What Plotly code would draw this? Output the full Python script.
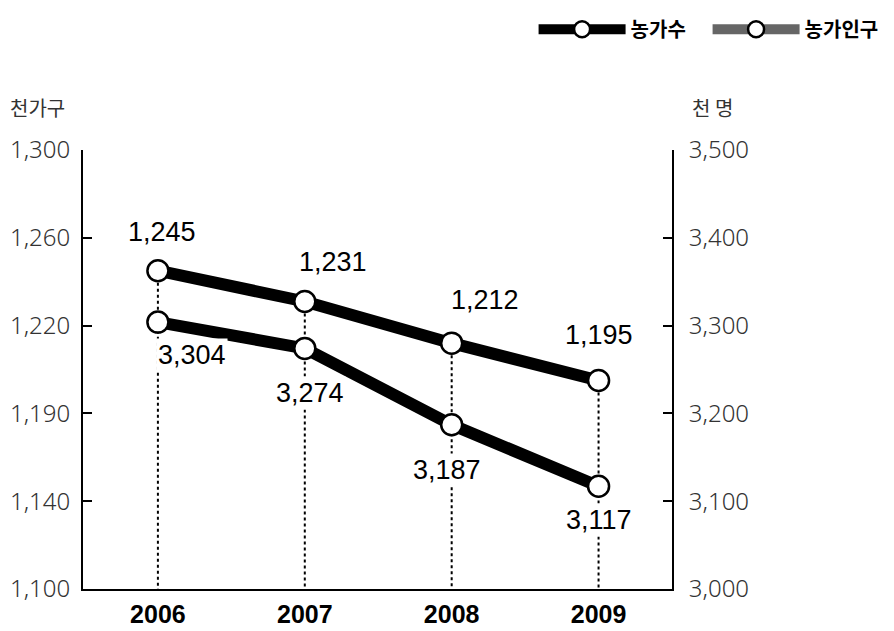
import numpy as np
import plotly.graph_objects as go

# ---- data ----
years = ["2006", "2007", "2008", "2009"]
households = [1245, 1231, 1212, 1195]          # 농가수 (천가구)
population = [3304, 3274, 3187, 3117]          # 농가인구 (천 명)
left_tick_text = ["1,100", "1,140", "1,190", "1,220", "1,260", "1,300"]
right_tick_text = ["3,000", "3,100", "3,200", "3,300", "3,400", "3,500"]
left_range = [1100, 1300]
right_range = [3000, 3500]
series_names = ["농가수", "농가인구"]

# ---- style ----
hh_label_shift = [(4, 39), (28, 39), (33, 43), (0, 45)]
pop_label_shift = [(34, -33), (5, -45), (-5, -45), (0, -34)]
tick_font = dict(family="Noto Sans, Liberation Sans, sans-serif", size=24, color="#333", weight=300)
label_font = dict(family="Liberation Sans, Arial, sans-serif", size=27, color="black")
LINE_W = 12
MARKER = dict(size=21, color="white", line=dict(color="black", width=2.5))

fig = go.Figure()

# dotted drop lines (x = category index)
for i, y in enumerate(households):
    fig.add_shape(type="line", xref="x", yref="y", x0=i, x1=i,
                  y0=y, y1=left_range[0], layer="below",
                  line=dict(color="black", width=2, dash="dot"))

fig.add_trace(go.Scatter(x=years, y=households, mode="lines+markers", name=series_names[0],
                         line=dict(color="black", width=LINE_W), marker=MARKER,
                         showlegend=False, yaxis="y", cliponaxis=False))
fig.add_trace(go.Scatter(x=years, y=population, mode="lines+markers", name=series_names[1],
                         line=dict(color="black", width=LINE_W), marker=MARKER,
                         showlegend=False, yaxis="y2", cliponaxis=False))

# legend entries
fig.add_trace(go.Scatter(x=[None], y=[None], mode="lines+markers", name=series_names[0],
                         line=dict(color="black", width=LINE_W), marker=MARKER))
fig.add_trace(go.Scatter(x=[None], y=[None], mode="lines+markers", name=series_names[1],
                         line=dict(color="#666666", width=LINE_W), marker=MARKER))

for i, v in enumerate(households):
    fig.add_annotation(x=i, xref="x", y=v, yref="y", text=f"{v:,}", showarrow=False,
                       xshift=hh_label_shift[i][0], yshift=hh_label_shift[i][1],
                       font=label_font, bgcolor="white")
for i, v in enumerate(population):
    fig.add_annotation(x=i, xref="x", y=v, yref="y2", text=f"{v:,}", showarrow=False,
                       xshift=pop_label_shift[i][0], yshift=pop_label_shift[i][1],
                       font=label_font, bgcolor="white")

fig.add_annotation(xref="paper", yref="paper", x=-0.127, y=1.096, xanchor="left", yanchor="middle",
                   text="천가구", showarrow=False,
                   font=dict(family="Noto Sans CJK KR", size=20, color="#333"))
fig.add_annotation(xref="paper", yref="paper", x=1.03, y=1.096, xanchor="left", yanchor="middle",
                   text="천 명", showarrow=False,
                   font=dict(family="Noto Sans CJK KR", size=20, color="#333"))

fig.update_layout(
    width=886, height=623,
    margin=dict(l=75, r=222, t=142, b=42, autoexpand=False),
    plot_bgcolor="white", paper_bgcolor="white",
    xaxis=dict(type="category", range=[-0.51, 3.5], showline=True, linecolor="black", linewidth=2,
               ticks="", showgrid=False, zeroline=False, ticklabelstandoff=2,
               tickfont=dict(family="Liberation Sans, Arial", size=25,
                             color="black", weight="bold")),
    yaxis=dict(range=left_range, tickvals=np.linspace(left_range[0], left_range[1], 6),
               ticktext=left_tick_text, showline=True, linecolor="black", linewidth=2,
               ticks="inside", ticklen=9, tickwidth=2, tickcolor="black",
               showgrid=False, zeroline=False, tickfont=tick_font, ticklabelstandoff=6),
    yaxis2=dict(range=right_range, tickvals=np.linspace(right_range[0], right_range[1], 6),
                ticktext=right_tick_text, overlaying="y", side="right",
                showline=True, linecolor="black", linewidth=2,
                ticks="inside", ticklen=9, tickwidth=2, tickcolor="black",
                showgrid=False, zeroline=False, tickfont=tick_font, ticklabelstandoff=10),
    legend=dict(orientation="h", x=0.765, xanchor="left", y=1.275, yanchor="middle",
                itemwidth=87, entrywidth=72,
                font=dict(family="Noto Sans CJK KR", size=20, color="black", weight="bold"),
                bgcolor="rgba(0,0,0,0)"),
)

fig.write_html("out.html")
